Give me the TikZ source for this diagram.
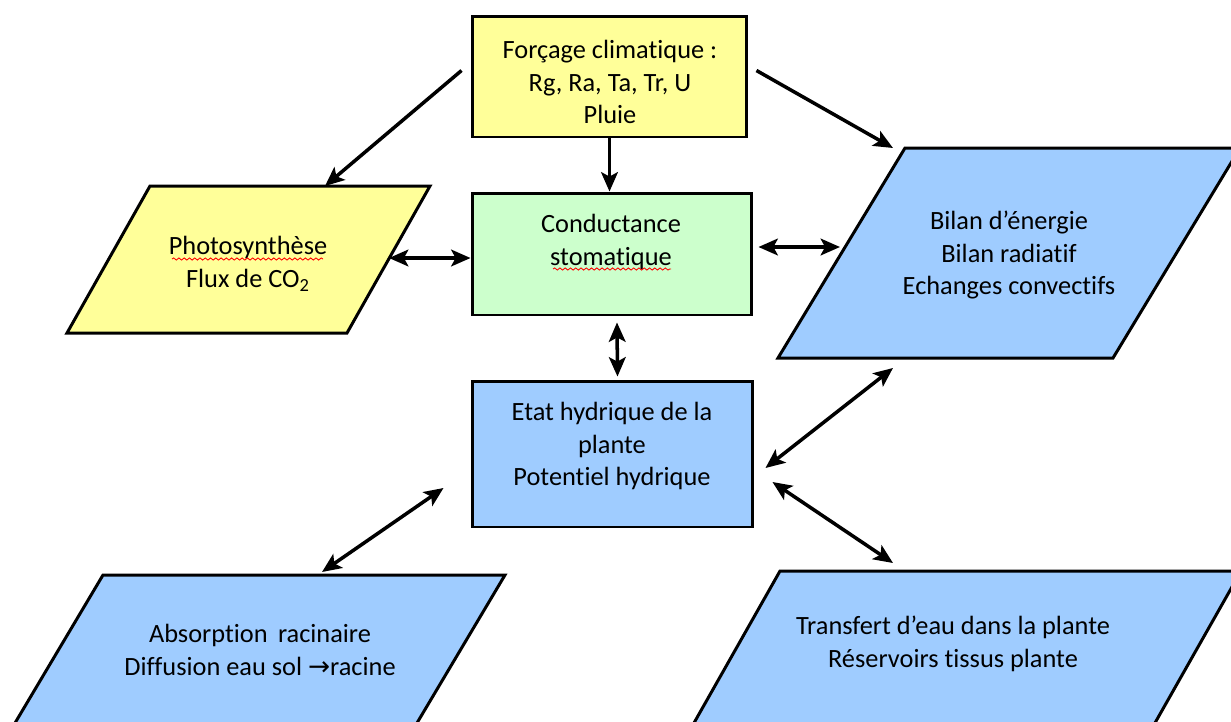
\documentclass[tikz,border=0pt]{standalone}
\usepackage{fontspec}
\setmainfont{Carlito}[Ligatures=NoCommon, RawFeature={-liga;-clig;-calt;-dlig}]
\newfontfamily\arrowfont{DejaVu Sans}
\usetikzlibrary{arrows.meta,calc,decorations.pathmorphing}
\definecolor{yel}{HTML}{FFFF99}
\definecolor{grn}{HTML}{CCFFCC}
\definecolor{blu}{HTML}{9FCCFF}
\begin{document}
\begin{tikzpicture}[x=0.02cm,y=-0.02cm,
  box/.style={draw=black, line width=1.7pt, inner sep=0pt},
  para/.style={draw=black, line width=1.7pt, line join=miter},
  txt/.style={align=center, font=\fontsize{15}{18.7}\selectfont, inner sep=0pt},
  conn/.style={line width=2pt, -{Stealth[length=11pt,width=9.5pt,inset=2.5pt]}},
  dconn/.style={line width=2pt, {Stealth[length=11pt,width=9.5pt,inset=2.5pt]}-{Stealth[length=11pt,width=9.5pt,inset=2.5pt]}},
  squig/.style={red, line width=0.5pt, decorate, decoration={snake,amplitude=0.6pt,segment length=3pt}}]
\useasboundingbox (0,0) rectangle (1231,721);
\clip (0,0) rectangle (1231,721);
\fill[white] (0,0) rectangle (1231,721);
% boxes
\node[box, fill=yel, minimum width=5.5cm, minimum height=2.42cm] (forc) at (609.5,76.5) {};
\node[box, fill=grn, minimum width=5.6cm, minimum height=2.44cm] (cond) at (612,254) {};
\node[box, fill=blu, minimum width=5.62cm, minimum height=2.92cm] (etat) at (612.5,454) {};
% parallelograms
\draw[para, fill=yel] (150,186) -- (430,186) -- (347,333) -- (67,333) -- cycle;
\draw[para, fill=blu] (905,148) -- (1240,148) -- (1113,358) -- (778,358) -- cycle;
\draw[para, fill=blu] (103,575) -- (505,575) -- (395,760) -- (-7,760) -- cycle;
\draw[para, fill=blu] (780,571) -- (1241,571) -- (1134,760) -- (673,760) -- cycle;
% texts
\node[txt] (forcT) at (610,82) {Forçage climatique :\\Rg, Ra, Ta, Tr, U\\Pluie};
\node[txt] (condT) at (611,242) {Conductance\\stomatique};
\node[txt] (photoT) at (248,264) {Photosynthèse\\Flux de CO\textsubscript{2}};
\node[txt] (bilanT) at (1009,255) {Bilan d’énergie\\Bilan radiatif\\Echanges convectifs};
\node[txt] (etatT) at (612,446) {Etat hydrique de la\\plante\\Potentiel hydrique};
\node[txt] (absT) at (260,650) {Absorption\, racinaire\\Diffusion eau sol {\arrowfont →}racine};
\node[txt] (transT) at (953,644) {Transfert d’eau dans la plante\\Réservoirs tissus plante};
% spell-check squiggles
\draw[squig] (172,259) -- (323,259);
\draw[squig] (553,269) -- (671,269);
% connector end points
\coordinate (photoTop) at (325,186);
\coordinate (photoR) at (389,258);
\coordinate (bilanTL) at (893,148);
\coordinate (bilanL) at (840,247);
\coordinate (bilanB) at (893,368);
\coordinate (transTop) at (893,563);
\coordinate (absTop) at (322,572);
% connectors
\draw[conn] ($(forc.west)+(-9,-6)$) -- (photoTop);
\draw[conn] ($(forc.east)+(8,-6)$) -- (bilanTL);
\draw[conn] (forc.south) -- (forc.south |- cond.north);
\draw[dconn] (photoR) -- (photoR -| cond.west);
\draw[dconn] ($(cond.east |- bilanL)+(5,0)$) -- (bilanL);
\draw[dconn] ($(cond.south)+(5,6)$) -- ($(etat.north)+(5,-3)$);
\draw[dconn] (bilanB) -- ($(etat.east)+(11,14)$);
\draw[dconn] ($(etat.east)+(18,28)$) -- (transTop);
\draw[dconn] ($(etat.west)+(-27,34)$) -- (absTop);
\end{tikzpicture}
\end{document}
